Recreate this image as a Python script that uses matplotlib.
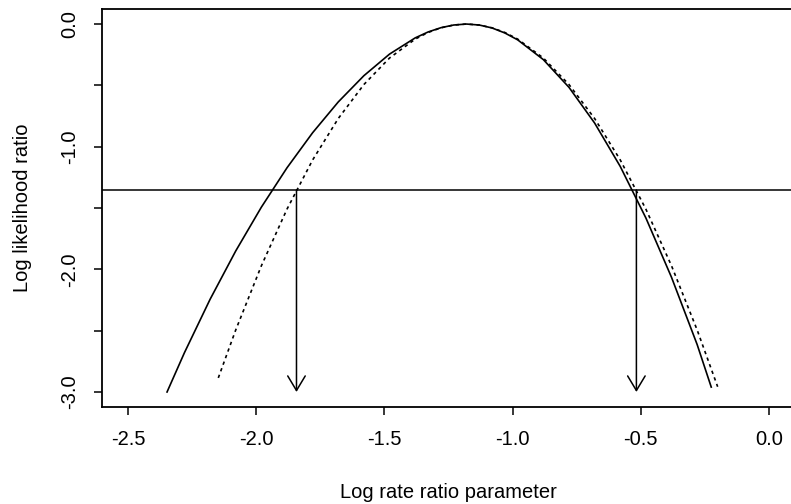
import numpy as np
from matplotlib import pyplot as plt

plt.rcParams['font.family'] = ['Liberation Sans', 'DejaVu Sans']

# exact log likelihood ratio (solid line)
exact_x = [-2.348, -2.28, -2.18, -2.08, -1.98, -1.88, -1.78, -1.68, -1.58,
           -1.48, -1.38, -1.33, -1.28, -1.23, -1.18, -1.13, -1.08, -1.03,
           -0.98, -0.88, -0.78, -0.68, -0.58, -0.48, -0.38, -0.28, -0.225]
exact_y = [-3.000, -2.679, -2.244, -1.850, -1.493, -1.172, -0.886, -0.635,
           -0.421, -0.245, -0.113, -0.065, -0.030, -0.008, 0.000, -0.008,
           -0.032, -0.073, -0.129, -0.290, -0.516, -0.807, -1.161, -1.581,
           -2.065, -2.613, -2.960]

# quadratic approximation (dotted line)
quad_x = [-2.148, -2.08, -1.98, -1.88, -1.78, -1.68, -1.58, -1.48, -1.38,
          -1.33, -1.28, -1.23, -1.18, -1.13, -1.08, -1.03, -0.98, -0.88,
          -0.78, -0.68, -0.58, -0.48, -0.38, -0.28, -0.20]
quad_y = [-2.885, -2.494, -1.971, -1.509, -1.108, -0.770, -0.493, -0.277,
          -0.123, -0.069, -0.031, -0.008, 0.000, -0.008, -0.031, -0.069,
          -0.123, -0.277, -0.493, -0.770, -1.108, -1.509, -1.971, -2.494,
          -2.957]

cutoff = -1.353
ci_x = [-1.843, -0.517]

fig = plt.figure(figsize=(7.91, 5.04), dpi=100)
ax = fig.add_axes([0.1295, 0.193, 0.875, 0.7885])

ax.plot(exact_x, exact_y, color='black', lw=1.2, solid_joinstyle='round')
ax.plot(quad_x, quad_y, color='black', lw=1.2, linestyle=(0, (2, 2.2)))
ax.axhline(cutoff, color='black', lw=1.1)

for cx in ci_x:
    ax.annotate('', xy=(cx, -3.0), xytext=(cx, cutoff),
                arrowprops=dict(arrowstyle='->, head_length=0.75, head_width=0.45',
                                color='black', lw=1.1, shrinkA=0, shrinkB=0,
                                mutation_scale=14))

ax.set_xlim(-2.6, 0.1)
ax.set_ylim(-3.12, 0.12)

ax.set_xticks([-2.5, -2.0, -1.5, -1.0, -0.5, 0.0])
ax.set_xticklabels(['-2.5', '-2.0', '-1.5', '-1.0', '-0.5', '0.0'])
ax.set_yticks([-3.0, -2.5, -2.0, -1.5, -1.0, -0.5, 0.0])
ax.set_yticklabels(['-3.0', '', '-2.0', '', '-1.0', '', '0.0'],
                   rotation=90, va='center')

ax.tick_params(direction='out', length=6, width=1.1, labelsize=14.5, pad=11)
for s in ax.spines.values():
    s.set_linewidth(1.3)

ax.set_xlabel('Log rate ratio parameter', fontsize=14.5, labelpad=24)
ax.set_ylabel('Log likelihood ratio', fontsize=14.5, labelpad=20)

fig.savefig('out.png', dpi=100)
